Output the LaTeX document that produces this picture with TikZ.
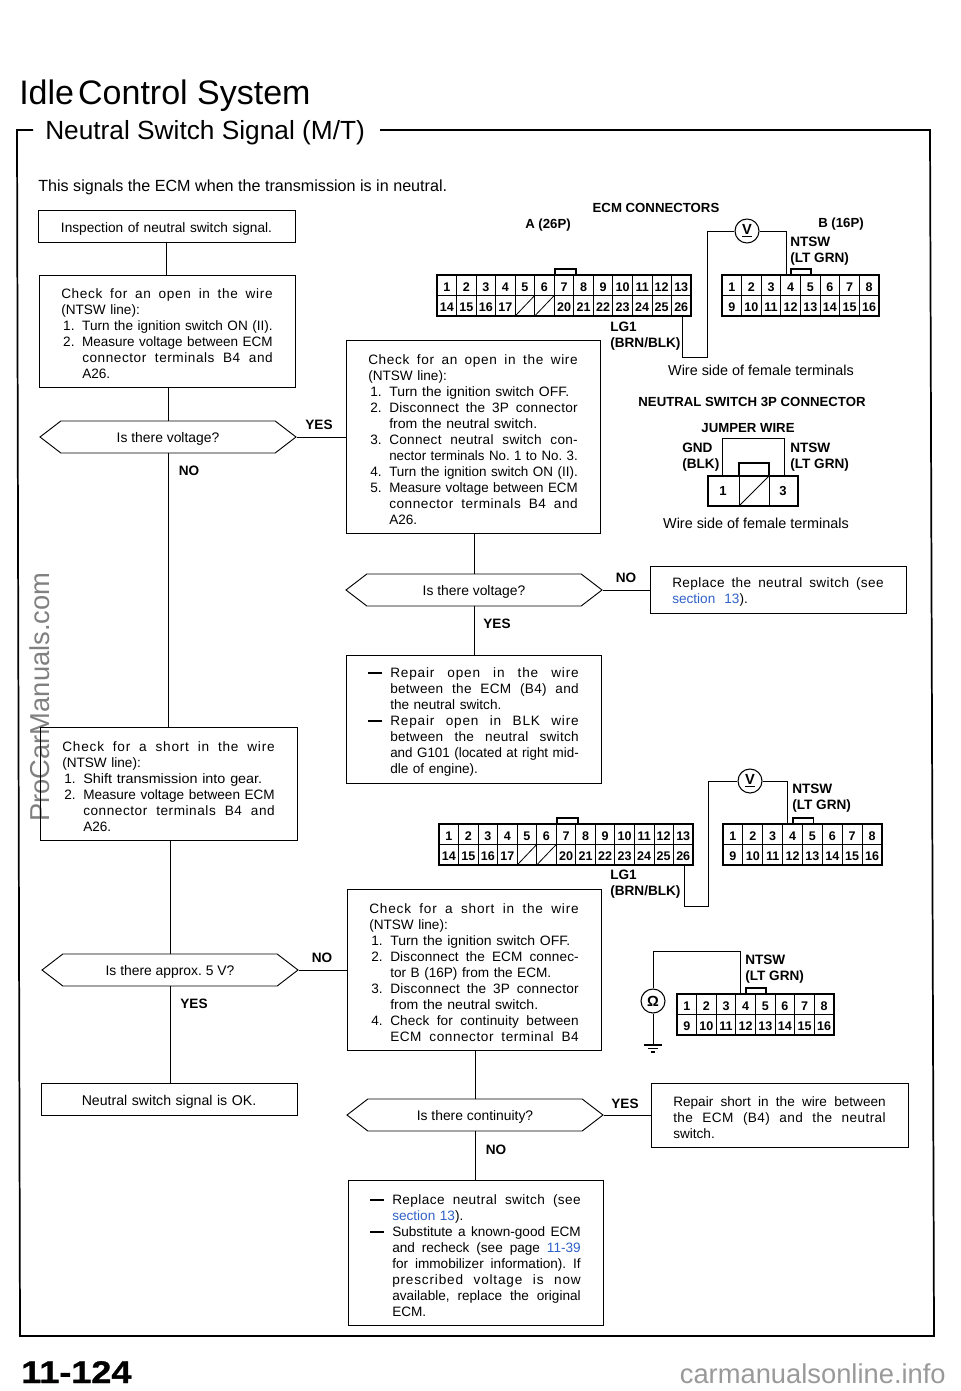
\documentclass[tikz,border=0pt]{standalone}
\usepackage{graphicx}
\usepackage{fontspec}
\setmainfont{Liberation Sans}
\newfontfamily\pagefont[FakeBold=1,FakeStretch=1.15]{Liberation Sans Bold}
\usetikzlibrary{shapes.symbols}
\AtBeginDocument{\frenchspacing}
\definecolor{linkblue}{HTML}{2F62C8}
\definecolor{markgray}{HTML}{808080}
\definecolor{sitegray}{HTML}{999999}
\newlength{\px}\setlength{\px}{0.75pt}
\newcommand{\bodyfont}{\fontsize{10.2}{12}\selectfont}
\newcommand{\Stz}{\spaceskip=.278em plus 1fil\relax}
\newcommand{\Fill}[2]{\leavevmode\hbox to #1{\Stz #2}}
\newcommand{\Ls}[2]{\addfontfeature{LetterSpace=#1}#2}
\newcommand{\J}[1]{\Fill{\hsize}{#1}}
\newcommand{\Ind}{\hspace*{21\px}}
\newcommand{\Sp}[1]{\Fill{\dimexpr\hsize-21\px\relax}{#1}}
\newcommand{\JI}[1]{\Ind\Sp{#1}}
\newcommand{\Rz}[1]{\resizebox{\dimexpr\hsize-21\px\relax}{\height}{#1}}
\newcommand{\Rw}[2]{\resizebox{#1\px}{\height}{#2}}
\newcommand{\It}[2]{\hspace*{2\px}\makebox[19\px][l]{#1}\mbox{#2}}
\newcommand{\Da}[1]{\makebox[22\px][l]{\rule[3.5\px]{14\px}{1.6\px}}\Fill{\dimexpr\hsize-22\px\relax}{#1}}
\newcommand{\Dj}[1]{\hspace*{22\px}\Fill{\dimexpr\hsize-22\px\relax}{#1}}
\newcommand{\Dt}[1]{\hspace*{22\px}#1}
\newcommand{\Dr}[1]{\hspace*{22\px}\resizebox{\dimexpr\hsize-22\px\relax}{\height}{#1}}
\newcommand{\link}[1]{\textcolor{linkblue}{#1}}
\tikzset{
  every picture/.style={x=0.75pt,y=-0.75pt},
  lin/.style={line width=0.7pt,black},
  frm/.style={line width=1.3pt,black},
  stepbox/.style={draw,line width=0.7pt,inner xsep=0pt,inner ysep=0pt,font=\bodyfont,align=left},
  ask/.style={draw,line width=0.7pt,shape=signal,signal to=east and west,signal pointer angle=75,
     minimum height=24pt,minimum width=192pt,inner xsep=0pt,inner ysep=0pt,font=\fontsize{10.4}{12}\selectfont},
  tag/.style={font=\fontsize{10.2}{12}\selectfont\bfseries,inner sep=0pt,yshift=-0.75pt},
  wlab/.style={font=\fontsize{10.2}{12}\selectfont\bfseries,inner sep=0pt,align=left,anchor=west,yshift=-1pt},
  head/.style={font=\fontsize{9.9}{12}\selectfont\bfseries,inner sep=0pt,yshift=-0.75pt},
  note/.style={font=\fontsize{10.8}{12}\selectfont,inner sep=0pt,yshift=-0.75pt},
  pin/.style={font=\fontsize{9.4}{10}\selectfont\bfseries,inner sep=0pt},
  meter/.style={draw,circle,line width=0.8pt,minimum size=18pt,inner sep=0pt,font=\fontsize{11}{12}\selectfont\bfseries},
  ctr/.style={line width=1.3pt},
  cdiv/.style={line width=0.6pt},
}
% name x1 y1 x2 y2 text
\newcommand{\PB}[6]{%
  \pgfmathsetmacro\tmpw{(#4-#2)*0.75}\pgfmathsetmacro\tmph{(#5-#3)*0.75}%
  \pgfmathsetmacro\tmpt{(#4-#2-44.5)*0.75}%
  \node[stepbox,minimum width=\tmpw pt,minimum height=\tmph pt,text width=\tmpt pt] (#1) at ({(#2+#4)/2},{(#3+#5)/2}) {\rule{0pt}{11.5pt}#6};}
% name cx cy text
\newcommand{\QQ}[4]{\node[ask] (#1) at (#2,#3) {\rule{0pt}{11pt}#4};}
% name x1 y1 x2 y2
\newcommand{\ConnA}[5]{%
  \draw[ctr] (#2,#3) rectangle (#4,#5);
  \pgfmathsetmacro\cw{(#4-#2)/13}\pgfmathsetmacro\ymid{#3+(#5-#3)/2}%
  \draw[ctr] ({#2+\cw*6.05},#3) -- ({#2+\cw*6.05},#3-6) -- ({#2+\cw*7.1},#3-6) -- ({#2+\cw*7.1},#3);
  \draw[cdiv] (#2,\ymid) -- (#4,\ymid);
  \foreach \c in {1,...,12}{\draw[cdiv] ({#2+\cw*\c},#3) -- ({#2+\cw*\c},#5);}
  \foreach \c in {5,6}{\draw[cdiv] ({#2+\cw*(\c-1)},#5) -- ({#2+\cw*\c},\ymid);}
  \foreach \n in {1,...,13}{\node[pin] (#1-\n) at ({#2+\cw*(\n-0.5)},{#3+(#5-#3)/4+1.5}) {\n};}
  \foreach \n/\cc in {14/1,15/2,16/3,17/4,20/7,21/8,22/9,23/10,24/11,25/12,26/13}{\node[pin] (#1-\n) at ({#2+\cw*(\cc-0.5)},{#3+(#5-#3)*3/4+1}) {\n};}
}
% name x1 y1 x2 y2
\newcommand{\ConnB}[5]{%
  \draw[ctr] (#2,#3) rectangle (#4,#5);
  \pgfmathsetmacro\cw{(#4-#2)/8}\pgfmathsetmacro\ymid{#3+(#5-#3)/2}%
  \draw[ctr] ({#2+\cw*3.52},#3) -- ({#2+\cw*3.52},#3-6) -- ({#2+\cw*4.55},#3-6) -- ({#2+\cw*4.55},#3);
  \draw[cdiv] (#2,\ymid) -- (#4,\ymid);
  \foreach \c in {1,...,7}{\draw[cdiv] ({#2+\cw*\c},#3) -- ({#2+\cw*\c},#5);}
  \foreach \n in {1,...,8}{\node[pin] (#1-\n) at ({#2+\cw*(\n-0.5)},{#3+(#5-#3)/4+1.5}) {\n};}
  \foreach \n/\cc in {9/1,10/2,11/3,12/4,13/5,14/6,15/7,16/8}{\node[pin] (#1-\n) at ({#2+\cw*(\cc-0.5)},{#3+(#5-#3)*3/4+1}) {\n};}
}
\begin{document}
\begin{tikzpicture}
\useasboundingbox (0,0) rectangle (960,1391);
\fill[white] (0,0) rectangle (960,1391);
% watermark
\node[rotate=90,text=markgray,inner sep=0pt,font=\fontsize{20.5}{22}\selectfont] (wm) at (40,697) {ProCarManuals.com};
% titles
\node[anchor=base west,inner sep=0pt,font=\fontsize{25.5}{28}\selectfont] (title) at (19,105) {Idle\hspace{-4pt} Control System};
\node[anchor=base west,inner sep=0pt,font=\fontsize{19.7}{22}\selectfont] (sub) at (45,140) {Neutral Switch Signal (M/T)};
\node[anchor=base west,inner sep=0pt,font=\fontsize{12.1}{14}\selectfont] (intro) at (38,191.5) {This signals the ECM when the transmission is in neutral.};
% frame
\coordinate (fa) at (380,130);\coordinate (fb) at (930,130);\coordinate (fc) at (934,1336);
\coordinate (fd) at (20,1336);\coordinate (fe) at (17,130);\coordinate (ff) at (33,130);
\draw[frm] (fa) -- (fb) -- (fc) -- (fd) -- (fe) -- (ff);
% flow boxes
\PB{b1}{38}{210}{295}{242}{\makebox[\hsize][c]{\fontsize{10.25}{12}\selectfont Inspection of neutral switch signal.}}
\PB{b2}{39}{275}{295}{387}{\J{\Ls{5}{Check for an open in the wire}}\\(NTSW line):\\\It{1.}{\Rz{Turn the ignition switch ON (II).}}\\\It{2.}{\Rz{Measure voltage between ECM}}\\\JI{\Ls{4}{connector terminals B4 and}}\\\Ind A26.}
\QQ{q1}{168}{437}{Is there voltage?}
\PB{b4}{346}{340}{600}{533}{\J{\Ls{5}{Check for an open in the wire}}\\(NTSW line):\\\It{1.}{\Rw{180}{Turn the ignition switch OFF.}}\\\It{2.}{\Sp{\Ls{2}{Disconnect the 3P connector}}}\\\Ind\Rw{148}{from the neutral switch.}\\\It{3.}{\Sp{\Ls{2}{Connect neutral switch con-}}}\\\Ind\Rz{nector terminals No. 1 to No. 3.}\\\It{4.}{\Rz{Turn the ignition switch ON (II).}}\\\It{5.}{\Rz{Measure voltage between ECM}}\\\JI{\Ls{4}{connector terminals B4 and}}\\\Ind A26.}
\QQ{q2}{474}{590}{Is there voltage?}
\PB{b6}{650}{566}{906}{613}{\J{\Ls{3}{Replace the neutral switch (see}}\\\link{section~~13}).}
\PB{b7}{346}{655}{601}{783}{\Da{\Ls{6}{Repair open in the wire}}\\\Dj{\Ls{2}{between the ECM (B4) and}}\\\Dt{the neutral switch.}\\\Da{\Ls{6}{Repair open in BLK wire}}\\\Dj{\Ls{2}{between the neutral switch}}\\\Dr{and G101 (located at right mid-}\\\Dt{dle of engine).}}
\PB{b8}{40}{727}{297}{840}{\J{\Ls{6}{Check for a short in the wire}}\\(NTSW line):\\\It{1.}{\Rw{179}{Shift transmission into gear.}}\\\It{2.}{\Rz{Measure voltage between ECM}}\\\JI{\Ls{4}{connector terminals B4 and}}\\\Ind A26.}
\QQ{q3}{170}{970}{Is there approx. 5 V?}
\PB{b10}{41}{1083}{297}{1115}{\makebox[\hsize][c]{\fontsize{10.6}{12}\selectfont Neutral switch signal is OK.}}
\PB{b11}{347}{889}{601}{1050}{\J{\Ls{6}{Check for a short in the wire}}\\(NTSW line):\\\It{1.}{\Rw{180}{Turn the ignition switch OFF.}}\\\It{2.}{\Sp{\Ls{1}{Disconnect the ECM connec-}}}\\\Ind tor B (16P) from the ECM.\\\It{3.}{\Sp{\Ls{2}{Disconnect the 3P connector}}}\\\Ind\Rw{148}{from the neutral switch.}\\\It{4.}{\Sp{\Ls{1}{Check for continuity between}}}\\\JI{\Ls{4}{ECM connector terminal B4}}}
\QQ{q4}{475}{1115}{Is there continuity?}
\PB{b13}{651}{1083}{908}{1147}{\J{Repair short in the wire between}\\\J{\Ls{3}{the ECM (B4) and the neutral}}\\switch.}
\PB{b14}{348}{1180}{603}{1325}{\Da{\Ls{3}{Replace neutral switch (see}}\\\Dt{\link{section 13}).}\\\Da{Substitute a known-good ECM}\\\Dj{and recheck (see page \link{11-39}}\\\Dj{for immobilizer information). If}\\\Dj{\Ls{6}{prescribed voltage is now}}\\\Dj{available, replace the original}\\\Dt{ECM.}}
% flow connectors
\draw[lin] (b1.south) -- (b1.south |- b2.north);
\draw[lin] (q1.north |- b2.south) -- (q1.north);
\draw[lin] (q1.south) -- (q1.south |- b8.north);
\draw[lin] (q3.north |- b8.south) -- (q3.north);
\draw[lin] (q3.south) -- (q3.south |- b10.north);
\draw[lin] (q1.east) -- (q1.east -| b4.west);
\draw[lin] (q2.north |- b4.south) -- (q2.north);
\draw[lin] (q2.east) -- (q2.east -| b6.west);
\draw[lin] (q2.south) -- (q2.south |- b7.north);
\draw[lin] (q3.east) -- (q3.east -| b11.west);
\draw[lin] (q4.north |- b11.south) -- (q4.north);
\draw[lin] (q4.east) -- (q4.east -| b13.west);
\draw[lin] (q4.south) -- (q4.south |- b14.north);
% flow labels
\node[tag] (ly1) at (319,424) {YES};
\node[tag] (ln1) at (189,470) {NO};
\node[tag] (ln2) at (626,577) {NO};
\node[tag] (ly2) at (497,623) {YES};
\node[tag] (ln3) at (322,957) {NO};
\node[tag] (ly3) at (194,1003) {YES};
\node[tag] (ly4) at (625,1103) {YES};
\node[tag] (ln4) at (496,1149) {NO};
% top connectors
\node[head] (hecm) at (656,207) {ECM CONNECTORS};
\node[head] (ha) at (548,224) {A (26P)};
\node[head] (hb) at (841,223) {B (16P)};
\ConnA{aa}{437}{275}{691}{316}
\ConnB{ba}{722}{275}{879}{316}
\node[meter] (v1) at (747,231) {\underline{V}};
\coordinate (w1a) at (682,316);\coordinate (w1b) at (682,357);\coordinate (w1c) at (707,357);\coordinate (w1d) at (707,231);
\coordinate (w1e) at (786,231);\coordinate (w1f) at (786,275);
\draw[lin] (w1a) -- (w1b) -- (w1c) -- (w1d) -- (v1.west);
\draw[lin] (v1.east) -- (w1e) -- (w1f);
\node[wlab] (n1) at (790,250) {NTSW\\(LT GRN)};
\node[wlab] (g1) at (610,335) {LG1\\(BRN/BLK)};
\node[note] (ws1) at (761,369) {Wire side of female terminals};
% neutral switch connector
\node[head] (hn) at (752,401) {NEUTRAL SWITCH 3P CONNECTOR};
\node[head] (hj) at (748,427) {JUMPER WIRE};
\node[wlab] (gnd) at (682,455.5) {GND\\(BLK)};
\node[wlab] (n2) at (790,455.5) {NTSW\\(LT GRN)};
\draw[ctr] (708,476) rectangle (798,506);
\draw[cdiv] (739,476) -- (739,506);\draw[cdiv] (769,476) -- (769,506);
\draw[cdiv] (739,506) -- (769,476);
\draw[line width=1pt] (739,476) -- (739,463) -- (769,463) -- (769,476);
\node[pin,font=\fontsize{9.8}{10}\selectfont\bfseries] (p1) at (723,491) {1};
\node[pin,font=\fontsize{9.8}{10}\selectfont\bfseries] (p3) at (783,491) {3};
\coordinate (j1) at (722,476);\coordinate (j2) at (722,438);\coordinate (j3) at (784,438);\coordinate (j4) at (784,476);
\draw[lin] (j1) -- (j2) -- (j3) -- (j4);
\node[note] (ws2) at (756,522) {Wire side of female terminals};
% second voltmeter set
\ConnA{ab}{439}{824}{693}{865}
\ConnB{bb}{723}{824}{882}{865}
\node[meter] (v2) at (750,781) {\underline{V}};
\coordinate (w2a) at (684,865);\coordinate (w2b) at (684,906);\coordinate (w2c) at (708,906);\coordinate (w2d) at (708,781);
\coordinate (w2e) at (787,781);\coordinate (w2f) at (787,824);
\draw[lin] (w2a) -- (w2b) -- (w2c) -- (w2d) -- (v2.west);
\draw[lin] (v2.east) -- (w2e) -- (w2f);
\node[wlab] (n3) at (792,797) {NTSW\\(LT GRN)};
\node[wlab] (g2) at (610,883) {LG1\\(BRN/BLK)};
% ohmmeter set
\ConnB{bc}{677}{994}{834}{1035}
\node[meter] (om) at (653,1001) {Ω};
\coordinate (o1) at (653,951);\coordinate (o2) at (740,951);\coordinate (o3) at (740,994);\coordinate (o4) at (653,1045);
\draw[lin] (om.north) -- (o1) -- (o2) -- (o3);
\draw[lin] (om.south) -- (o4);
\draw[line width=0.8pt] (644,1045) -- (662,1045);
\draw[line width=0.8pt] (648,1048.5) -- (658,1048.5);
\draw[line width=0.8pt] (651,1052) -- (655,1052);
\node[wlab] (n4) at (745,968) {NTSW\\(LT GRN)};
% page number + site
\node[anchor=base west,inner sep=0pt,font=\fontsize{23.5}{25}\pagefont] (pg) at (21,1383) {11-124};
\node[anchor=base east,inner sep=0pt,text=sitegray,font=\fontsize{20.5}{22}\selectfont] (site) at (946,1383) {carmanualsonline.info};
\end{tikzpicture}
\end{document}
